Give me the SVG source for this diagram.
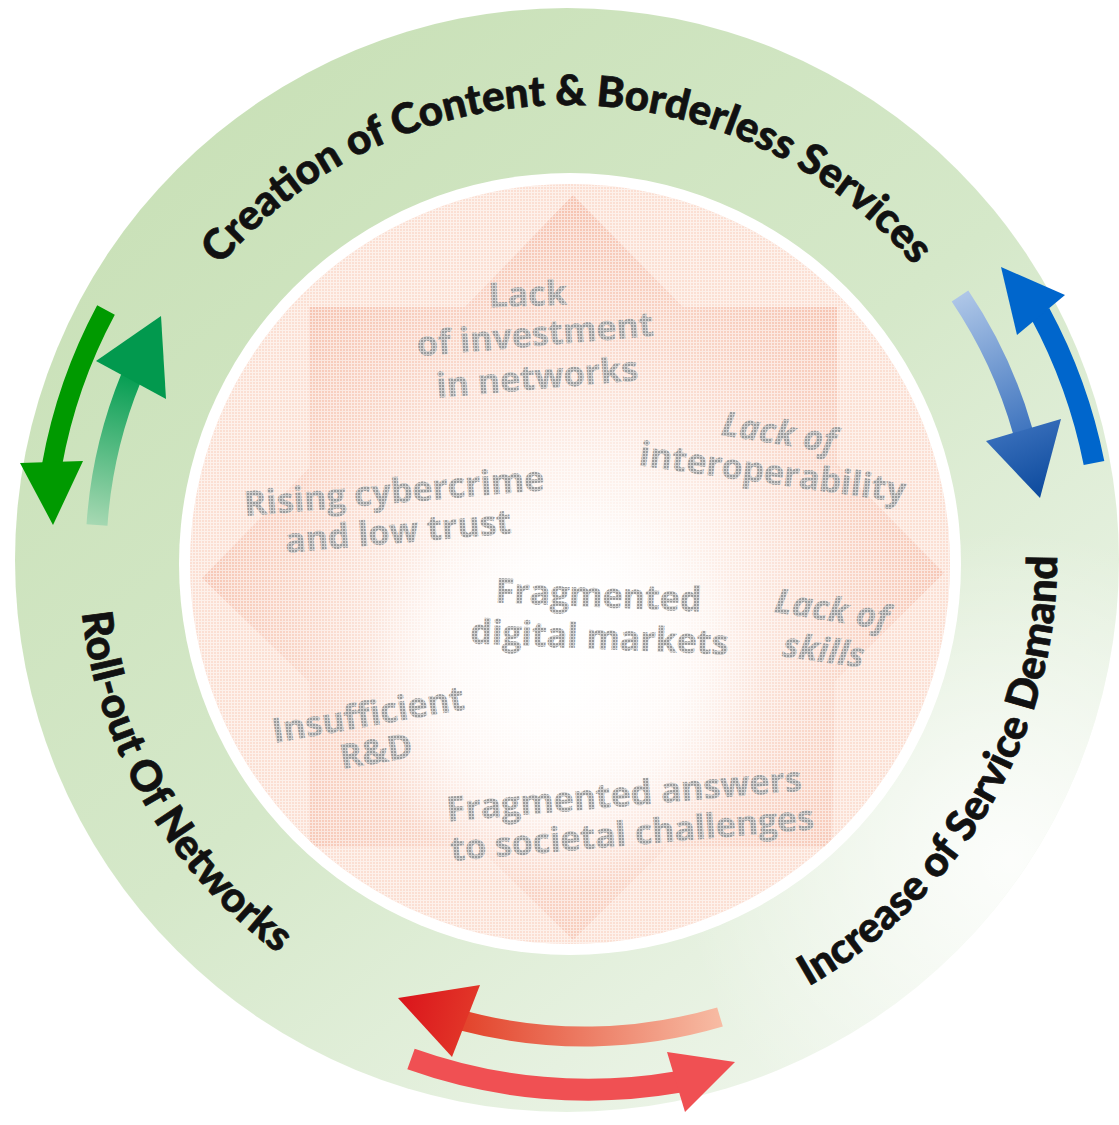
<svg xmlns="http://www.w3.org/2000/svg" width="1119" height="1125" viewBox="0 0 1119 1125">
<style>
.ring{font-family:Lato,"Open Sans","Liberation Sans",sans-serif;font-weight:900;font-size:42px;fill:#111;stroke:#111;stroke-width:0.7px;}
.inner{font-family:"Open Sans","Liberation Sans",sans-serif;font-weight:700;font-size:34px;fill:#999999;stroke:#999999;stroke-width:0.5px;text-anchor:middle;}
.it{font-style:italic;}
</style>
<defs>
<linearGradient id="ringGrad" gradientUnits="userSpaceOnUse" x1="150" y1="80" x2="950" y2="1080">
<stop offset="0" stop-color="#c8e0b6"/>
<stop offset="0.5" stop-color="#d5e8c9"/>
<stop offset="0.8" stop-color="#e6f1e0"/>
<stop offset="1" stop-color="#f1f7ee"/>
</linearGradient>
<radialGradient id="ringGlow" gradientUnits="userSpaceOnUse" cx="1010" cy="860" r="330">
<stop offset="0" stop-color="#ffffff" stop-opacity="0.85"/>
<stop offset="1" stop-color="#ffffff" stop-opacity="0"/>
</radialGradient>
<radialGradient id="starGrad" gradientUnits="userSpaceOnUse" cx="573" cy="600" r="390">
<stop offset="0" stop-color="#ffffff"/>
<stop offset="0.35" stop-color="#fdf0ea"/>
<stop offset="0.7" stop-color="#f9d6c8"/>
<stop offset="1" stop-color="#f6c4b2"/>
</radialGradient>
<radialGradient id="centerGlow" gradientUnits="userSpaceOnUse" cx="560" cy="690" r="200">
<stop offset="0" stop-color="#ffffff" stop-opacity="0.95"/>
<stop offset="0.6" stop-color="#ffffff" stop-opacity="0.6"/>
<stop offset="1" stop-color="#ffffff" stop-opacity="0"/>
</radialGradient>
<pattern id="grid" width="3" height="3" patternUnits="userSpaceOnUse">
<path d="M0 0.5H3M0.5 0V3" stroke="#ffffff" stroke-width="1"/>
</pattern>
<clipPath id="innerClip"><circle cx="570" cy="564" r="380"/></clipPath>
<linearGradient id="gLight" gradientUnits="userSpaceOnUse" x1="97" y1="525" x2="131" y2="380">
<stop offset="0" stop-color="#a6d8b2"/>
<stop offset="1" stop-color="#0a9f55"/>
</linearGradient>
<linearGradient id="bLight" gradientUnits="userSpaceOnUse" x1="960" y1="296" x2="1023" y2="440">
<stop offset="0" stop-color="#aec6e7"/>
<stop offset="1" stop-color="#3a71bd"/>
</linearGradient>
<linearGradient id="bHead" gradientUnits="userSpaceOnUse" x1="1010" y1="425" x2="1040" y2="498">
<stop offset="0" stop-color="#3a70bc"/>
<stop offset="1" stop-color="#0c4a9d"/>
</linearGradient>
<linearGradient id="rLight" gradientUnits="userSpaceOnUse" x1="720" y1="1017" x2="466" y2="1021">
<stop offset="0" stop-color="#f7bba3"/>
<stop offset="1" stop-color="#e3452d"/>
</linearGradient>
<linearGradient id="rHead" gradientUnits="userSpaceOnUse" x1="480" y1="1020" x2="398" y2="1000">
<stop offset="0" stop-color="#e33a2a"/>
<stop offset="1" stop-color="#da141b"/>
</linearGradient>
<path id="pTop" d="M 112 560 A 455 455 0 0 1 1022 560"/>
<path id="pRight" d="M 567 1050 A 490 490 0 0 0 991.4 315"/>
<path id="pLeft" d="M 144.4 316 A 488 488 0 0 0 567 1048"/>
</defs>

<rect width="1119" height="1125" fill="#ffffff"/>

<g id="outer-ring">
<circle cx="567" cy="560" r="552" fill="url(#ringGrad)"/>
<circle cx="567" cy="560" r="552" fill="url(#ringGlow)"/>
</g>

<g id="inner-circle">
<circle cx="570" cy="564" r="391" fill="#ffffff"/>
<circle cx="570" cy="564" r="380" fill="#fbdfd3"/>
<g clip-path="url(#innerClip)">
<polygon points="573,195 683,307 837,307 837,464 944,573 835,681 832,847 667,847 573,940 478,847 309,847 309,682 202,578 309,468 309,307 465,307" fill="url(#starGrad)"/>
<circle cx="560" cy="690" r="200" fill="url(#centerGlow)"/>
</g>
</g>

<g id="issues">
<g id="n-investment">
<text class="inner" transform="translate(528,306) rotate(-2)">Lack</text>
<text class="inner" transform="translate(536,346) rotate(-5)">of investment</text>
<text class="inner" transform="translate(538,389) rotate(-5)">in networks</text>
</g>
<g id="n-interop">
<text class="inner it" transform="translate(777,444) rotate(9)">Lack of</text>
<text class="inner" transform="translate(771,484) rotate(8)">interoperability</text>
</g>
<g id="n-cybercrime">
<text class="inner" transform="translate(395,503) rotate(-5)">Rising cybercrime</text>
<text class="inner" transform="translate(399,543) rotate(-5)">and low trust</text>
</g>
<g id="n-markets">
<text class="inner" transform="translate(598,607) rotate(2.5)">Fragmented</text>
<text class="inner" transform="translate(599,649) rotate(2.5)">digital markets</text>
</g>
<g id="n-skills">
<text class="inner it" transform="translate(830,621) rotate(9)">Lack of</text>
<text class="inner it" transform="translate(822,662) rotate(8)">skills</text>
</g>
<g id="n-rnd">
<text class="inner" transform="translate(370,726) rotate(-10)">Insufficient</text>
<text class="inner" transform="translate(378,763) rotate(-10)">R&amp;D</text>
</g>
<g id="n-societal">
<text class="inner" transform="translate(625,806) rotate(-5)">Fragmented answers</text>
<text class="inner" transform="translate(633,845) rotate(-5)">to societal challenges</text>
</g>
</g>

<circle cx="570" cy="564" r="380" fill="url(#grid)" opacity="0.55"/>

<g id="n-creation"><text class="ring"><textPath href="#pTop" startOffset="50%" text-anchor="middle">Creation of Content &amp; Borderless Services</textPath></text></g>
<g id="n-demand"><text class="ring"><textPath href="#pRight" startOffset="50%" text-anchor="middle">Increase of Service Demand</textPath></text></g>
<g id="n-rollout"><text class="ring"><textPath href="#pLeft" startOffset="50%" text-anchor="middle">Roll-out Of Networks</textPath></text></g>

<g id="connectors">
<g id="green-down">
<path d="M 106 310 A 524 524 0 0 0 52 465" fill="none" stroke="#009a00" stroke-width="20"/>
<polygon points="20,463 83,461 53,525" fill="#009a00"/>
</g>
<g id="green-up">
<path d="M 97 525 A 472 472 0 0 1 131 378" fill="none" stroke="url(#gLight)" stroke-width="21"/>
<polygon points="96,361 166,399 161,316" fill="#02994e"/>
</g>
<g id="blue-down">
<path d="M 960 296 A 473 473 0 0 1 1023 432" fill="none" stroke="url(#bLight)" stroke-width="20"/>
<polygon points="986,441 1061,419 1040,498" fill="url(#bHead)"/>
</g>
<g id="blue-up">
<path d="M 1094 463 A 535 535 0 0 0 1040 313" fill="none" stroke="#0066cc" stroke-width="21"/>
<polygon points="1017,335 1065,295 1001,267" fill="#0066cc"/>
</g>
<g id="red-left">
<path d="M 720 1017 A 477 477 0 0 1 464 1021" fill="none" stroke="url(#rLight)" stroke-width="20"/>
<polygon points="480,985 452,1057 398,998" fill="url(#rHead)"/>
</g>
<g id="red-right">
<path d="M 411 1059 A 528 528 0 0 0 678 1082" fill="none" stroke="#f05053" stroke-width="22"/>
<polygon points="667,1052 685,1112 735,1062" fill="#f05053"/>
</g>
</g>
</svg>
